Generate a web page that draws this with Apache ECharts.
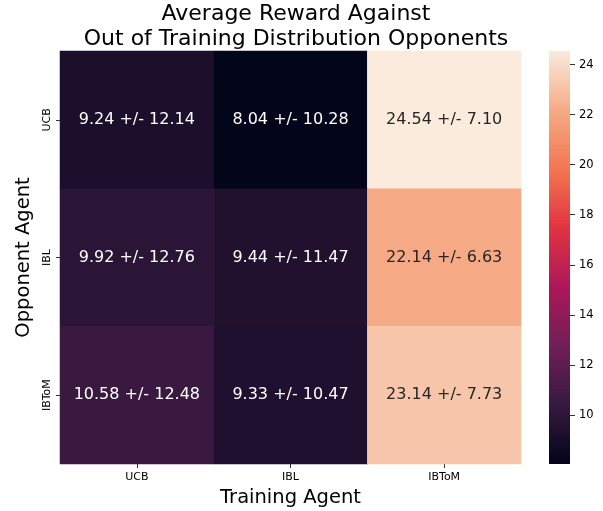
<!DOCTYPE html>
<html><head><meta charset="utf-8">
<script src="https://cdn.jsdelivr.net/npm/echarts@6/dist/echarts.min.js"></script>
<style>html,body{margin:0;padding:0;background:#fff}#c{width:603px;height:511px}</style>
</head><body><div id="c"></div>
<script>
const trainingAgents = ['UCB', 'IBL', 'IBToM'];
const opponentAgents = ['UCB', 'IBL', 'IBToM'];
// means[opponentIndex][trainingIndex]
const means = [
  [9.24, 8.04, 24.54],
  [9.92, 9.44, 22.14],
  [10.58, 9.33, 23.14]
];
const stds = [
  [12.14, 10.28, 7.10],
  [12.76, 11.47, 6.63],
  [12.48, 10.47, 7.73]
];
const colorbarTicks = [10, 12, 14, 16, 18, 20, 22, 24];
const rocket = ['#03051a', '#35193e', '#701f57', '#ad1759', '#e13342', '#f37651', '#f5ab86', '#faebdd'];

const vmin = Math.min(...means.flat());
const vmax = Math.max(...means.flat());
const FONT = 'DejaVu Sans';

const data = [];
opponentAgents.forEach((o, i) => {
  trainingAgents.forEach((t, j) => {
    const v = means[i][j];
    const frac = (v - vmin) / (vmax - vmin);
    data.push({
      value: [j, i, v],
      label: { color: frac > 0.6 ? '#262626' : '#ffffff' },
      std: stds[i][j]
    });
  });
});

const chart = echarts.init(document.getElementById('c'), null, { renderer: 'canvas' });
chart.setOption({
  backgroundColor: '#fff',
  animation: false,
  title: {
    text: 'Average Reward Against\nOut of Training Distribution Opponents',
    left: 291, top: -3, textAlign: 'center',
    textStyle: { fontFamily: FONT, fontSize: 22, fontWeight: 'normal', color: '#000', lineHeight: 25 }
  },
  grid: [
    { left: 60, right: 82, top: 51, bottom: 47, outerBoundsMode: 'none', containLabel: false },
    { left: 549, width: 21, top: 51, bottom: 47, outerBoundsMode: 'none', containLabel: false }
  ],
  xAxis: [
    {
      type: 'category', data: trainingAgents, gridIndex: 0,
      name: 'Training Agent', nameLocation: 'middle', nameGap: 22,
      nameTextStyle: { fontFamily: FONT, fontSize: 19.5, color: '#000' },
      axisLine: { show: false },
      axisTick: { show: true, alignWithLabel: true, length: 4, lineStyle: { color: '#333' } },
      axisLabel: { fontFamily: FONT, fontSize: 11, color: '#000', margin: 8 },
      splitLine: { show: false }
    },
    {
      type: 'category', data: ['cb'], gridIndex: 1, show: false
    }
  ],
  yAxis: [
    {
      type: 'category', data: opponentAgents, gridIndex: 0, inverse: true,
      name: 'Opponent Agent', nameLocation: 'middle', nameGap: 25, nameRotate: 90,
      nameTextStyle: { fontFamily: FONT, fontSize: 19.5, color: '#000' },
      axisLine: { show: false },
      axisTick: { show: true, alignWithLabel: true, length: 4, lineStyle: { color: '#333' } },
      axisLabel: { fontFamily: FONT, fontSize: 11, color: '#000', rotate: 90, margin: 7 },
      splitLine: { show: false }
    },
    {
      type: 'value', gridIndex: 1, position: 'right', min: vmin, max: vmax,
      axisLine: { show: false },
      splitLine: { show: false },
      axisTick: { show: true, length: 5, lineStyle: { color: '#333' }, customValues: colorbarTicks },
      axisLabel: { fontFamily: FONT, fontSize: 11.5, color: '#000', margin: 9, customValues: colorbarTicks }
    }
  ],
  visualMap: {
    show: false, type: 'continuous', min: vmin, max: vmax, dimension: 2, seriesIndex: 0,
    inRange: { color: rocket }
  },
  series: [
    {
      type: 'heatmap', xAxisIndex: 0, yAxisIndex: 0, data: data,
      label: {
        show: true, fontFamily: FONT, fontSize: 16,
        formatter: p => p.value[2].toFixed(2) + ' +/- ' + p.data.std.toFixed(2)
      },
      itemStyle: { borderWidth: 0 },
      emphasis: { disabled: true }
    },
    {
      type: 'bar', xAxisIndex: 1, yAxisIndex: 1, data: [vmax], barWidth: '100%',
      silent: true,
      itemStyle: {
        color: new echarts.graphic.LinearGradient(0, 1, 0, 0,
          rocket.map((c, k) => ({ offset: k / (rocket.length - 1), color: c })))
      }
    }
  ]
});
</script></body></html>
